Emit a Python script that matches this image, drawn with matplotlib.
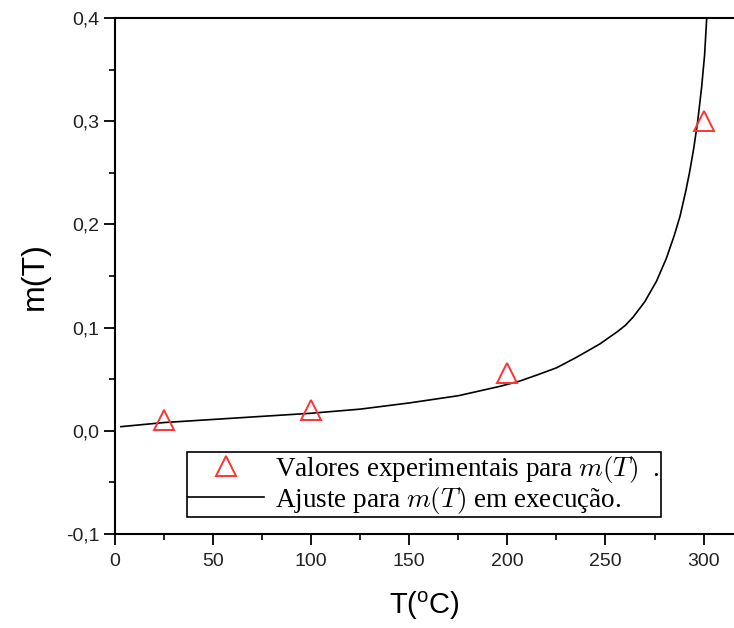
import matplotlib
matplotlib.use("Agg")
import matplotlib.pyplot as plt
import matplotlib.ticker as ticker
from matplotlib.lines import Line2D

plt.rcParams["font.family"] = ["Liberation Sans", "DejaVu Sans"]
plt.rcParams["mathtext.fontset"] = "cm"

# pontos experimentais
temp_exp = [25, 100, 200, 300]
m_exp = [0.010, 0.020, 0.056, 0.300]

# curva de ajuste
temp_fit = [3, 25, 50, 75, 100, 125, 150, 175, 196, 206, 215, 225, 235, 247,
            256, 260, 264, 270, 276, 281, 285, 288, 291, 293, 295, 297, 299,
            300.5, 301.6]
m_fit = [0.004, 0.008, 0.011, 0.014, 0.017, 0.021, 0.027, 0.034, 0.043, 0.048,
         0.054, 0.061, 0.071, 0.084, 0.096, 0.102, 0.110, 0.125, 0.145, 0.167,
         0.189, 0.208, 0.233, 0.252, 0.274, 0.300, 0.333, 0.364, 0.400]

fig = plt.figure(figsize=(7.34, 6.28), dpi=100)
ax = fig.add_axes([0.1567, 0.1497, 0.8433, 0.8216])

ax.plot(temp_fit, m_fit, color="black", lw=1.2)
ax.plot(temp_exp, m_exp, ls="none", marker="^", markersize=15,
        markerfacecolor="none", markeredgecolor="#ff3333", markeredgewidth=1.4)

ax.set_xlim(0, 315.5)
ax.set_ylim(-0.1, 0.4)
ax.xaxis.set_major_locator(ticker.MultipleLocator(50))
ax.xaxis.set_minor_locator(ticker.MultipleLocator(25))
ax.yaxis.set_major_locator(ticker.MultipleLocator(0.1))
ax.yaxis.set_minor_locator(ticker.MultipleLocator(0.05))
ax.yaxis.set_major_formatter(ticker.FuncFormatter(lambda v, p: f"{v:.1f}".replace(".", ",")))
ax.tick_params(which="major", direction="out", length=8, width=1.3,
               labelsize=14, colors="black", labelcolor="#222222", pad=3)
ax.tick_params(axis="x", which="major", pad=6)
ax.tick_params(which="minor", direction="out", length=4.5, width=1.2)
ax.spines["right"].set_visible(False)
for s in ["top", "bottom", "left"]:
    ax.spines[s].set_linewidth(1.5)

ax.set_xlabel(r"T($\mathregular{^o}$C)", fontsize=21, labelpad=14)
ax.set_ylabel("m(T)", fontsize=23, labelpad=12)

handles = [
    Line2D([], [], ls="none", marker="^", markersize=15, markerfacecolor="none",
           markeredgecolor="#ff3333", markeredgewidth=1.4),
    Line2D([], [], color="black", lw=1.2),
]
labels = ["Valores experimentais para $m(T)$  .", "Ajuste para $m(T)$ em execução."]
leg = ax.legend(handles, labels, loc="lower left", bbox_to_anchor=(0.116, 0.033),
                prop={"family": "Liberation Serif", "size": 19.5}, frameon=True,
                fancybox=False, edgecolor="black", framealpha=1,
                borderpad=0.05, labelspacing=0.0, handlelength=2.8,
                handletextpad=0.4, borderaxespad=0)
leg.get_frame().set_linewidth(1.2)

fig.savefig("out.png", dpi=100)
